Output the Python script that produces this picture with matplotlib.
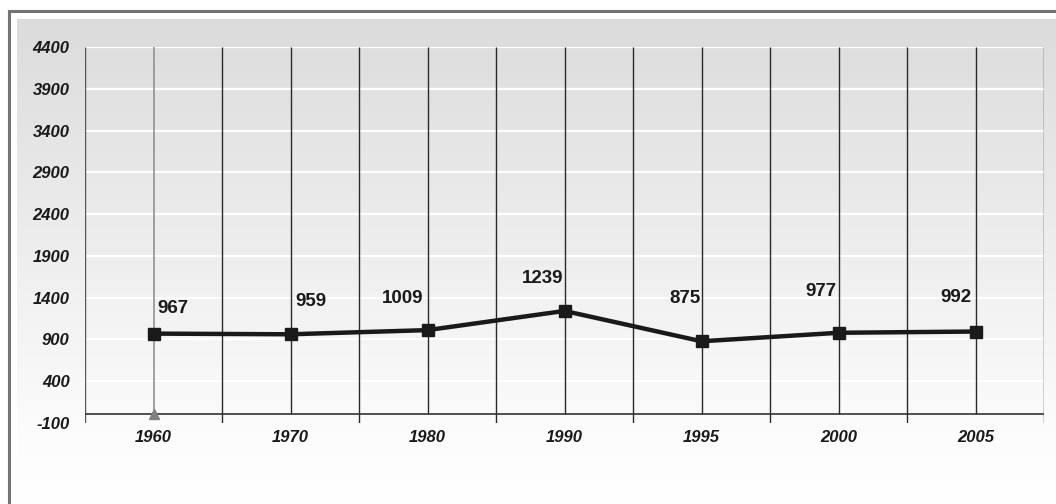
"""plot.py - line chart of yearly values on a grey gradient panel."""

import matplotlib

matplotlib.use("Agg")
import matplotlib.pyplot as plt
import numpy as np
from matplotlib.lines import Line2D

plt.rcParams["font.family"] = ["Liberation Sans", "DejaVu Sans"]

YEARS = ["1960", "1970", "1980", "1990", "1995", "2000", "2005"]
VALUES = [967, 959, 1009, 1239, 875, 977, 992]
Y_TICKS = [-100, 400, 900, 1400, 1900, 2400, 2900, 3400, 3900, 4400]

# where each value label sits relative to its point, in pixels
LABEL_OFFSETS = [(19, 25), (20, 33), (-25, 32), (-22, 32),
                 (-17, 43), (-18, 41), (-20, 34)]

W, H = 1056, 504
OUTPUT_FILE = "out.png"
TEXT_COLOR = "#1a1a1a"

fig = plt.figure(figsize=(W / 100, H / 100), dpi=100)
fig.patch.set_facecolor("white")

# grey gradient panel behind everything: dark grey at top, white near bottom
panel_h = H - 19
rows = np.arange(panel_h)
level = np.interp(rows, [0, 420, panel_h], [0.862, 0.99, 1.0])
grad = np.repeat(level[:, None, None], 3, axis=2)
panel = fig.add_axes([17 / W, 0, 1 - 17 / W, panel_h / H], zorder=0)
panel.imshow(grad, aspect="auto", extent=[0, 1, 0, 1], origin="upper",
             interpolation="bilinear")
panel.set_axis_off()

# outer frame: top and left edges
fig.add_artist(Line2D([8.5 / W, 1], [1 - 11 / H, 1 - 11 / H],
                      color="#737373", lw=2.2, transform=fig.transFigure))
fig.add_artist(Line2D([8.5 / W, 8.5 / W], [0, 1 - 11 / H],
                      color="#737373", lw=2.2, transform=fig.transFigure))

ax = fig.add_axes([85 / W, 1 - 422.6 / H, (1044 - 85) / W,
                   (422.6 - 47.3) / H], zorder=1)
ax.set_facecolor("none")
for spine in ax.spines.values():
    spine.set_visible(False)

x = np.arange(len(YEARS))
ax.set_xlim(-0.5, len(YEARS) - 0.5)
ax.set_ylim(-100, 4400)

# white horizontal grid
for val in Y_TICKS[1:]:
    ax.axhline(val, color="white", lw=1.6, zorder=1)

# vertical lines at category centres and boundaries
for i in x:
    if i == 0:
        ax.vlines(i, 0, 4400, color="#8a8a8a", lw=1.1, zorder=2)
    else:
        ax.vlines(i, 0, 4400, color="#2a2a2a", lw=1.0, zorder=2)
for b in np.arange(-0.5, len(YEARS), 1.0):
    col = "#555555" if b < 0 else "#2a2a2a"
    ax.vlines(b, -100, 4400, color=col, lw=1.0, zorder=2)

# x axis drawn at zero
ax.hlines(0, -0.5, len(YEARS) - 0.5, color="#333333", lw=1.2, zorder=3)
ax.plot([0], [0], marker="^", ms=7, color="#808080", zorder=4,
        clip_on=False)

ax.plot(x, VALUES, color="#1a1a1a", lw=3.2, marker="s", ms=9,
        zorder=5, clip_on=False)

for xi, val, (dx, dy) in zip(x, VALUES, LABEL_OFFSETS):
    ax.annotate(str(val), (xi, val), xytext=(dx, dy),
                textcoords="offset pixels", ha="center", va="center",
                fontsize=13.5, fontweight="bold", color=TEXT_COLOR, zorder=6)

ax.set_xticks(x)
ax.set_xticklabels(YEARS, fontsize=12, fontweight="bold",
                   fontstyle="italic", color=TEXT_COLOR)
ax.set_yticks(Y_TICKS)
ax.set_yticklabels([str(v) for v in Y_TICKS], fontsize=12,
                   fontweight="bold", fontstyle="italic", color=TEXT_COLOR)
ax.tick_params(axis="x", length=0, pad=5)
ax.tick_params(axis="y", length=0, pad=11)

fig.savefig(OUTPUT_FILE, dpi=100)
plt.close(fig)
